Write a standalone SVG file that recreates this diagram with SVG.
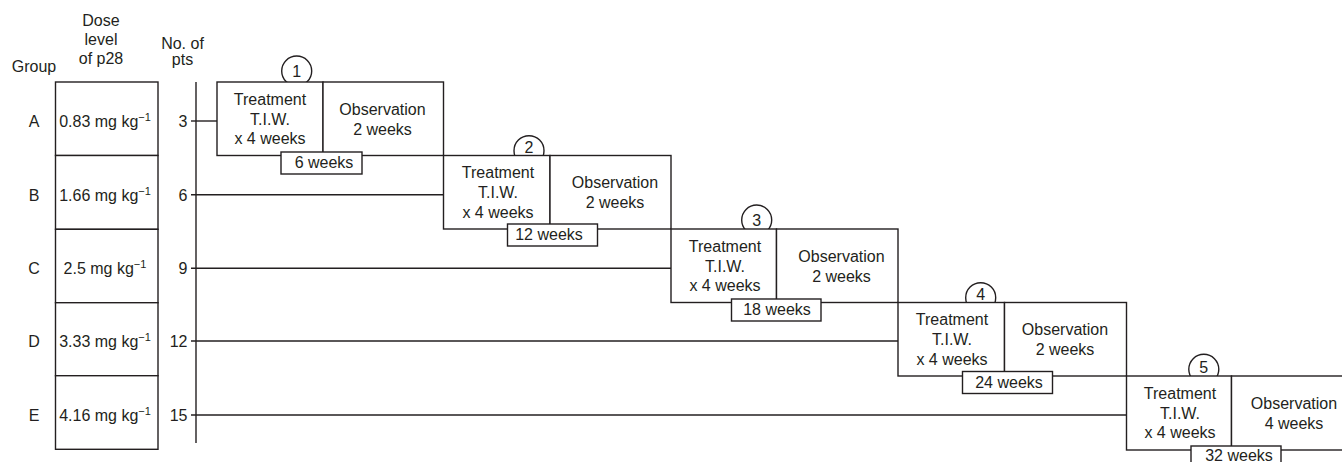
<svg xmlns="http://www.w3.org/2000/svg" width="1342" height="462" viewBox="0 0 1342 462">
<style>
text{font-family:"Liberation Sans",Arial,sans-serif;font-size:16px;fill:#231f20}
.m{text-anchor:middle}
.e{text-anchor:end}
.ln{stroke:#231f20;stroke-width:1.4;fill:none}
.bx{stroke:#231f20;stroke-width:1.4;fill:#fff}
.sup{font-size:11px}
</style>
<rect width="1342" height="462" fill="#fff"/>
<g id="header">
<text class="m" x="34" y="72">Group</text>
<text class="m" x="101" y="25.5">Dose</text>
<text class="m" x="101" y="45">level</text>
<text class="m" x="101" y="64">of p28</text>
<text class="m" x="182.5" y="48.5">No. of</text>
<text class="m" x="182.5" y="65">pts</text>
</g>
<g id="connectors">
<line class="ln" x1="196" y1="82" x2="196" y2="443"/>
<line class="ln" x1="191" y1="121" x2="217" y2="121"/>
<line class="ln" x1="191" y1="194.7" x2="443.5" y2="194.7"/>
<line class="ln" x1="191" y1="268.3" x2="671" y2="268.3"/>
<line class="ln" x1="191" y1="341" x2="898" y2="341"/>
<line class="ln" x1="191" y1="415" x2="1126.5" y2="415"/>
</g>
<g id="rowA">
<text class="m" x="34" y="127">A</text>
<rect class="bx" x="55.5" y="82" width="102.5" height="73.5"/>
<text class="m" x="105" y="127">0.83 mg kg<tspan class="sup" dy="-6">−1</tspan></text>
<text class="e" x="187.5" y="127">3</text>
</g>
<g id="rowB">
<text class="m" x="34" y="200.7">B</text>
<rect class="bx" x="55.5" y="155.5" width="102.5" height="73.8"/>
<text class="m" x="105" y="200.7">1.66 mg kg<tspan class="sup" dy="-6">−1</tspan></text>
<text class="e" x="187.5" y="200.7">6</text>
</g>
<g id="rowC">
<text class="m" x="34" y="274.3">C</text>
<rect class="bx" x="55.5" y="229.3" width="102.5" height="73.4"/>
<text class="m" x="105" y="274.3">2.5 mg kg<tspan class="sup" dy="-6">−1</tspan></text>
<text class="e" x="187.5" y="274.3">9</text>
</g>
<g id="rowD">
<text class="m" x="34" y="347">D</text>
<rect class="bx" x="55.5" y="302.7" width="102.5" height="73"/>
<text class="m" x="105" y="347">3.33 mg kg<tspan class="sup" dy="-6">−1</tspan></text>
<text class="e" x="187.5" y="347">12</text>
</g>
<g id="rowE">
<text class="m" x="34" y="421">E</text>
<rect class="bx" x="55.5" y="375.7" width="102.5" height="73.6"/>
<text class="m" x="105" y="421">4.16 mg kg<tspan class="sup" dy="-6">−1</tspan></text>
<text class="e" x="187.5" y="421">15</text>
</g>
<g id="stage1">
<circle class="bx" cx="296.7" cy="71" r="15"/>
<rect class="bx" x="217" y="82" width="106" height="73.5"/>
<rect class="bx" x="323" y="82" width="120.5" height="73.5"/>
<text class="m" x="296.7" y="77">1</text>
<text class="m" x="270" y="104.5">Treatment</text>
<text class="m" x="270" y="124.5">T.I.W.</text>
<text class="m" x="270" y="144">x 4 weeks</text>
<text class="m" x="382.5" y="114.5">Observation</text>
<text class="m" x="382.5" y="134.5">2 weeks</text>
<rect class="bx" x="281" y="152" width="81" height="22"/>
<text class="m" x="324" y="168">6 weeks</text>
</g>
<g id="stage2">
<circle class="bx" cx="529" cy="150.7" r="15"/>
<rect class="bx" x="443.5" y="155.5" width="106.5" height="73.5"/>
<rect class="bx" x="550" y="155.5" width="121" height="73.5"/>
<text class="m" x="529" y="152.5">2</text>
<text class="m" x="498" y="178">Treatment</text>
<text class="m" x="498" y="198">T.I.W.</text>
<text class="m" x="498" y="217.5">x 4 weeks</text>
<text class="m" x="615" y="188">Observation</text>
<text class="m" x="615" y="208">2 weeks</text>
<rect class="bx" x="507.5" y="224" width="90" height="22"/>
<text class="m" x="549" y="240">12 weeks</text>
</g>
<g id="stage3">
<circle class="bx" cx="756.7" cy="220" r="15"/>
<rect class="bx" x="671" y="229" width="105.5" height="73.5"/>
<rect class="bx" x="776.5" y="229" width="121.5" height="73.5"/>
<text class="m" x="756.7" y="226">3</text>
<text class="m" x="725" y="251.5">Treatment</text>
<text class="m" x="725" y="271.5">T.I.W.</text>
<text class="m" x="725" y="291">x 4 weeks</text>
<text class="m" x="841.5" y="261.5">Observation</text>
<text class="m" x="841.5" y="281.5">2 weeks</text>
<rect class="bx" x="731.5" y="299" width="89.5" height="22"/>
<text class="m" x="777" y="315">18 weeks</text>
</g>
<g id="stage4">
<circle class="bx" cx="980.7" cy="297.7" r="15"/>
<rect class="bx" x="898" y="302.5" width="106.5" height="73.5"/>
<rect class="bx" x="1004.5" y="302.5" width="122" height="73.5"/>
<text class="m" x="980.7" y="300">4</text>
<text class="m" x="952" y="325">Treatment</text>
<text class="m" x="952" y="345">T.I.W.</text>
<text class="m" x="952" y="364.5">x 4 weeks</text>
<text class="m" x="1065" y="335">Observation</text>
<text class="m" x="1065" y="355">2 weeks</text>
<rect class="bx" x="962.5" y="371.5" width="90" height="22"/>
<text class="m" x="1009" y="387.5">24 weeks</text>
</g>
<g id="stage5">
<circle class="bx" cx="1203.8" cy="369.3" r="15"/>
<rect class="bx" x="1126.5" y="376" width="105" height="74"/>
<rect class="bx" x="1231.5" y="376" width="130" height="74"/>
<text class="m" x="1203.8" y="372.5">5</text>
<text class="m" x="1180" y="398.5">Treatment</text>
<text class="m" x="1180" y="418.5">T.I.W.</text>
<text class="m" x="1180" y="438">x 4 weeks</text>
<text class="m" x="1294" y="408.5">Observation</text>
<text class="m" x="1294" y="428.5">4 weeks</text>
<rect class="bx" x="1191" y="446" width="90" height="22"/>
<text class="m" x="1239" y="461">32 weeks</text>
</g>
</svg>
